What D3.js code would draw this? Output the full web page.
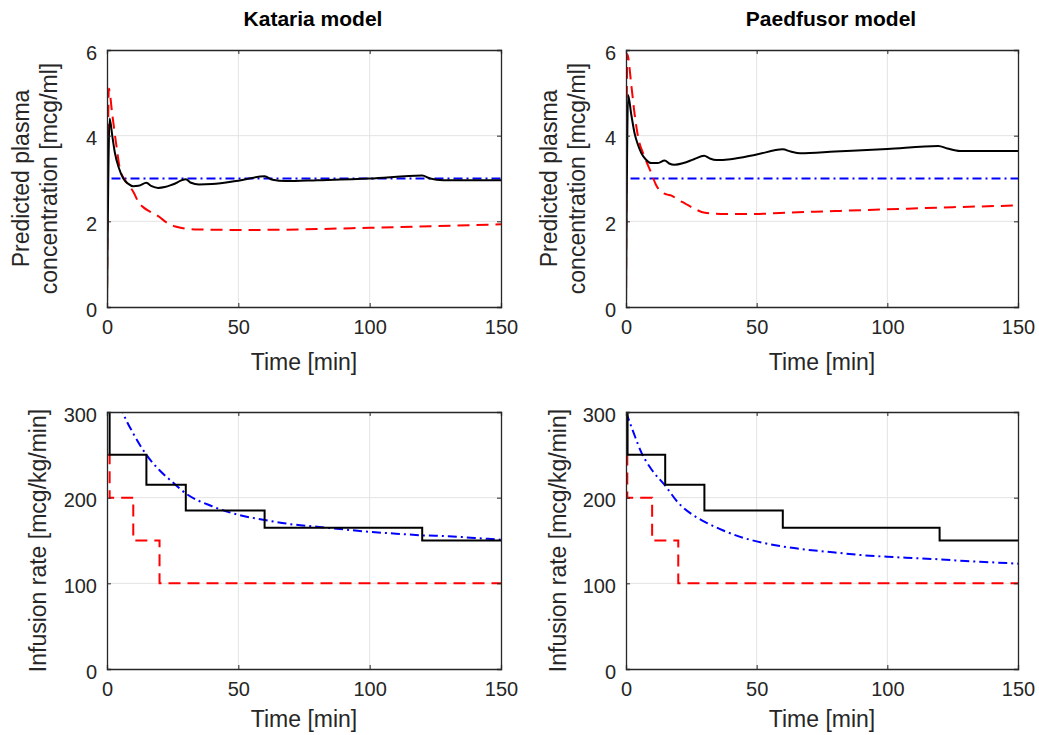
<!DOCTYPE html>
<html>
<head>
<meta charset="utf-8">
<script src="https://cdn.jsdelivr.net/npm/d3@7"></script>
<style>
  body { margin: 0; background: #fff; }
  svg { font-family: "Liberation Sans", Arial, sans-serif; }
</style>
</head>
<body>
<div id="chart"></div>
<script>
// Eixos
const timeTicks = [0, 50, 100, 150];
const concTicks = [0, 2, 4, 6];
const rateTicks = [0, 100, 200, 300];

// Kataria - concentracao [t, mcg/ml]
const katariaTarget = [[0, 0], [0, 3], [150, 3]];
const katariaBlack = [[0, 0], [1, 4.4], [2, 4.0], [3, 3.6], [4.5, 3.25], [6.2, 3.0], [8, 2.88], [10, 2.82], [12, 2.83],
  [15, 2.9], [17, 2.82], [19.5, 2.78], [22, 2.8], [25, 2.86], [30, 2.98], [32, 2.9], [35, 2.86], [40, 2.87],
  [50, 2.95], [60, 3.05], [63, 2.97], [68, 2.94], [80, 2.96], [100, 3.0], [120, 3.07], [123, 3.0], [128, 2.96], [150, 2.96]];
const katariaRed = [[0, 0], [0.7, 5.1], [2, 4.5], [3.5, 3.8], [5, 3.2], [7, 2.95], [10, 2.69], [12, 2.45], [14, 2.32],
  [16, 2.24], [18.3, 2.17], [20, 2.1], [22.5, 1.98], [26, 1.88], [29, 1.84], [35, 1.81], [48, 1.8], [57, 1.8],
  [80, 1.82], [100, 1.85], [125, 1.89], [150, 1.93]];

// Paedfusor - concentracao
const paedTarget = [[0, 0], [0, 3], [150, 3]];
const paedBlack = [[0, 0], [0.8, 4.95], [2, 4.5], [3.3, 4.05], [4.5, 3.8], [5.9, 3.59], [7.5, 3.45], [9.7, 3.36], [12, 3.36],
  [14.8, 3.42], [16.5, 3.35], [18.6, 3.32], [22, 3.36], [26, 3.45], [29.9, 3.53], [32, 3.47], [34.6, 3.43], [40, 3.45],
  [50, 3.56], [60, 3.68], [63, 3.63], [66.6, 3.59], [80, 3.63], [100, 3.69], [119.5, 3.76], [123, 3.7], [127.8, 3.64], [150, 3.64]];
const paedRed = [[0, 0], [0.5, 5.9], [2, 5.2], [3.3, 4.5], [4.6, 3.98], [7.1, 3.51], [9.7, 3.12], [11.5, 2.85], [13.5, 2.69],
  [15.5, 2.63], [17.4, 2.6], [20, 2.5], [22.5, 2.42], [26, 2.3], [30.2, 2.2], [38, 2.17], [48, 2.17], [60.8, 2.2],
  [80, 2.24], [100, 2.28], [125, 2.33], [150, 2.37]];

// Kataria - taxa de infusao [t, mcg/kg/min]
const katariaRateBlack = [[0, 320], [1, 250], [15, 215], [30, 185], [60, 165], [120, 150], [150, 150]];
const katariaRateRed = [[0, 250], [1, 200], [10, 150], [20, 100], [150, 100]];
const katariaRateBlue = [[3, 330], [6, 300], [10, 275], [15, 250], [20, 232], [25, 218], [30, 205], [40, 190], [50, 180],
  [60, 174], [70, 169], [80, 166], [90, 163], [100, 160], [110, 158], [120, 156], [130, 155], [140, 153], [150, 151]];

// Paedfusor - taxa de infusao
const paedRateBlack = [[0, 300], [0.6, 250], [15, 215], [30, 185], [60, 165], [120, 150], [150, 150]];
const paedRateRed = [[0, 250], [0.5, 200], [10, 150], [20, 100], [150, 100]];
const paedRateBlue = [[0, 300], [3, 275], [6, 252], [10, 232], [15, 214], [20, 194], [25, 181], [30, 172], [37, 162],
  [45, 153], [50, 149], [60, 143], [70, 139], [80, 136], [90, 133], [100, 131], [110, 129.5], [120, 128], [130, 126],
  [140, 124.5], [150, 123]];

const W = 1039, H = 735;
const axisColor = "#262626";

const svg = d3.select("#chart").append("svg")
  .attr("width", W)
  .attr("height", H);

const panels = [
  { id: "a", x: 107, y: 50, w: 394, h: 257, yMax: 6, yTicks: concTicks, title: "Kataria model", xlabelOff: 63,
    ylabel: ["Predicted plasma", "concentration [mcg/ml]"], labelX: [29, 57],
    series: [
      { data: katariaTarget, color: "#0000ff", dash: "9,4,2,4", curve: d3.curveLinear },
      { data: katariaRed, color: "#ff0000", dash: "12,7", curve: d3.curveMonotoneX },
      { data: katariaBlack, color: "#000", dash: null, curve: d3.curveMonotoneX }
    ] },
  { id: "b", x: 626, y: 50, w: 392, h: 257, yMax: 6, yTicks: concTicks, title: "Paedfusor model", xlabelOff: 63,
    ylabel: ["Predicted plasma", "concentration [mcg/ml]"], labelX: [557, 585],
    series: [
      { data: paedTarget, color: "#0000ff", dash: "9,4,2,4", curve: d3.curveLinear },
      { data: paedRed, color: "#ff0000", dash: "12,7", curve: d3.curveMonotoneX },
      { data: paedBlack, color: "#000", dash: null, curve: d3.curveMonotoneX }
    ] },
  { id: "c", x: 107, y: 412, w: 394, h: 257, yMax: 300, yTicks: rateTicks, title: null, xlabelOff: 58,
    ylabel: ["Infusion rate [mcg/kg/min]"], labelX: [46],
    series: [
      { data: katariaRateRed, color: "#ff0000", dash: "12,7", curve: d3.curveStepAfter },
      { data: katariaRateBlue, color: "#0000ff", dash: "9,4,2,4", curve: d3.curveMonotoneX },
      { data: katariaRateBlack, color: "#000", dash: null, curve: d3.curveStepAfter }
    ] },
  { id: "d", x: 626, y: 412, w: 392, h: 257, yMax: 300, yTicks: rateTicks, title: null, xlabelOff: 58,
    ylabel: ["Infusion rate [mcg/kg/min]"], labelX: [566],
    series: [
      { data: paedRateRed, color: "#ff0000", dash: "12,7", curve: d3.curveStepAfter },
      { data: paedRateBlue, color: "#0000ff", dash: "9,4,2,4", curve: d3.curveMonotoneX },
      { data: paedRateBlack, color: "#000", dash: null, curve: d3.curveStepAfter }
    ] }
];

panels.forEach(p => {
  const g = svg.append("g").attr("transform", `translate(${p.x},${p.y})`);

  const xScale = d3.scaleLinear().domain([0, 150]).range([0, p.w]);
  const yScale = d3.scaleLinear().domain([0, p.yMax]).range([p.h, 0]);

  // grade
  g.append("g").selectAll("line.gx")
    .data(timeTicks.slice(1, -1))
    .enter().append("line")
    .attr("x1", d => xScale(d)).attr("x2", d => xScale(d))
    .attr("y1", 0).attr("y2", p.h)
    .attr("stroke", "#e3e3e3").attr("stroke-width", 1);
  g.append("g").selectAll("line.gy")
    .data(p.yTicks.slice(1, -1))
    .enter().append("line")
    .attr("x1", 0).attr("x2", p.w)
    .attr("y1", d => yScale(d)).attr("y2", d => yScale(d))
    .attr("stroke", "#e3e3e3").attr("stroke-width", 1);

  // linhas
  g.append("clipPath").attr("id", "clip-" + p.id)
    .append("rect").attr("x", 0).attr("y", 0).attr("width", p.w).attr("height", p.h);

  const plot = g.append("g").attr("clip-path", `url(#clip-${p.id})`);
  p.series.forEach(s => {
    const line = d3.line()
      .x(d => xScale(d[0]))
      .y(d => yScale(d[1]))
      .curve(s.curve);
    plot.append("path")
      .datum(s.data)
      .attr("d", line)
      .attr("fill", "none")
      .attr("stroke", s.color)
      .attr("stroke-width", 2)
      .attr("stroke-dasharray", s.dash);
  });

  // eixos (estilo matlab, ticks para dentro)
  const fmt = d3.format("~g");
  const xAxis = d3.axisBottom(xScale).tickValues(timeTicks).tickSize(-4).tickPadding(17).tickFormat(fmt);
  const yAxis = d3.axisLeft(yScale).tickValues(p.yTicks).tickSize(-4).tickPadding(10).tickFormat(fmt);
  const xTop = d3.axisTop(xScale).tickValues(timeTicks).tickSize(-4).tickFormat("");
  const yRight = d3.axisRight(yScale).tickValues(p.yTicks).tickSize(-4).tickFormat("");

  const axes = [
    g.append("g").attr("transform", `translate(0,${p.h})`).call(xAxis),
    g.append("g").call(yAxis),
    g.append("g").call(xTop),
    g.append("g").attr("transform", `translate(${p.w},0)`).call(yRight)
  ];
  axes.forEach(a => {
    a.select(".domain").attr("stroke", axisColor).attr("stroke-width", 1.3);
    a.selectAll(".tick line").attr("stroke", axisColor);
    a.selectAll("text").attr("fill", axisColor).style("font-size", "20px");
  });
  axes[0].selectAll(".tick text").attr("dy", "0.5em");
  axes[1].selectAll(".tick text").attr("dy", "0.45em");

  // rotulos
  g.append("text")
    .attr("x", p.w / 2)
    .attr("y", p.h + p.xlabelOff)
    .attr("text-anchor", "middle")
    .attr("fill", axisColor)
    .style("font-size", "23px")
    .text("Time [min]");

  p.ylabel.forEach((t, i) => {
    svg.append("text")
      .attr("transform", `translate(${p.labelX[i]},${p.y + p.h / 2}) rotate(-90)`)
      .attr("text-anchor", "middle")
      .attr("fill", axisColor)
      .style("font-size", "23px")
      .text(t);
  });

  if (p.title) {
    g.append("text")
      .attr("x", p.w / 2 + 9)
      .attr("y", -24)
      .attr("text-anchor", "middle")
      .attr("fill", "#000")
      .style("font-size", "21px")
      .style("font-weight", "bold")
      .text(p.title);
  }
});
</script>
</body>
</html>
